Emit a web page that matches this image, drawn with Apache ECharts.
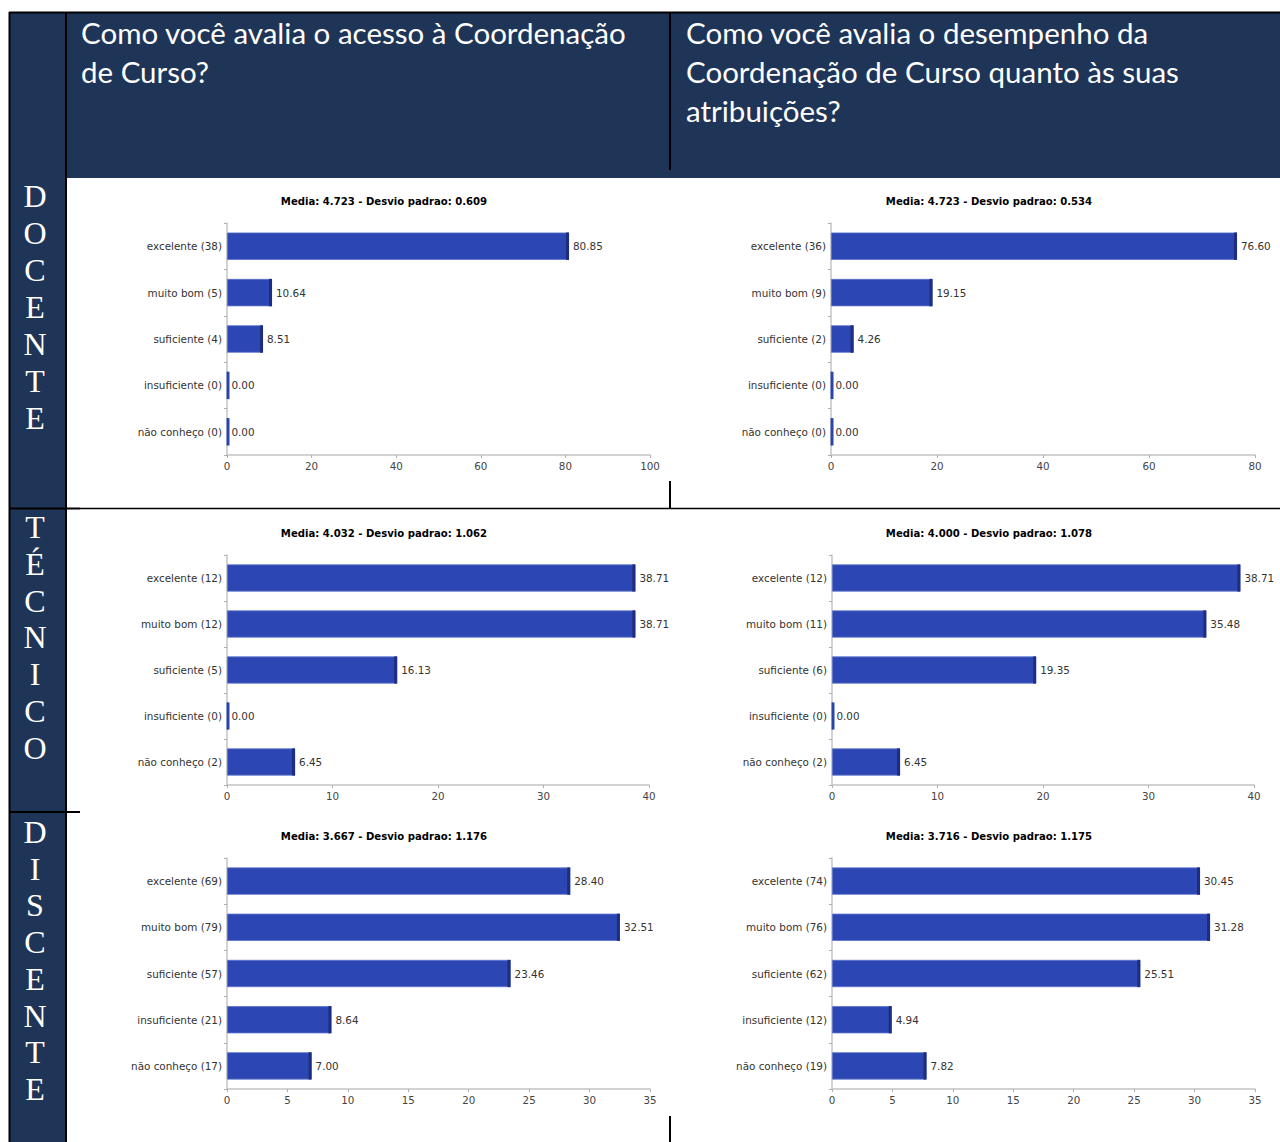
<!DOCTYPE html>
<html>
<head>
<meta charset="utf-8">
<script src="https://cdn.jsdelivr.net/npm/echarts@6/dist/echarts.min.js"></script>
<style>
html,body{margin:0;padding:0;background:#fff;}
#c{width:1280px;height:1142px;}
</style>
</head>
<body>
<div id="c"></div>
<script>
// ---- data ----
const categories = ['excelente', 'muito bom', 'suficiente', 'insuficiente', 'não conheço'];

const docenteAcessoCounts = [38, 5, 4, 0, 0];
const docenteAcessoPct = [80.85, 10.64, 8.51, 0.00, 0.00];
const docenteDesempenhoCounts = [36, 9, 2, 0, 0];
const docenteDesempenhoPct = [76.60, 19.15, 4.26, 0.00, 0.00];

const tecnicoAcessoCounts = [12, 12, 5, 0, 2];
const tecnicoAcessoPct = [38.71, 38.71, 16.13, 0.00, 6.45];
const tecnicoDesempenhoCounts = [12, 11, 6, 0, 2];
const tecnicoDesempenhoPct = [38.71, 35.48, 19.35, 0.00, 6.45];

const discenteAcessoCounts = [69, 79, 57, 21, 17];
const discenteAcessoPct = [28.40, 32.51, 23.46, 8.64, 7.00];
const discenteDesempenhoCounts = [74, 76, 62, 12, 19];
const discenteDesempenhoPct = [30.45, 31.28, 25.51, 4.94, 7.82];

const chartTitles = [
  'Media: 4.723 - Desvio padrao: 0.609',
  'Media: 4.723 - Desvio padrao: 0.534',
  'Media: 4.032 - Desvio padrao: 1.062',
  'Media: 4.000 - Desvio padrao: 1.078',
  'Media: 3.667 - Desvio padrao: 1.176',
  'Media: 3.716 - Desvio padrao: 1.175'
];
const axisMax = [100, 80, 40, 40, 35, 35];
const axisInterval = [20, 20, 10, 10, 5, 5];

const headerLeft = 'Como você avalia o acesso à Coordenação\nde Curso?';
const headerRight = 'Como você avalia o desempenho da\nCoordenação de Curso quanto às suas\natribuições?';
const rowLabels = ['DOCENTE', 'TÉCNICO', 'DISCENTE'];

// ---- layout ----
const panels = [
  {counts: docenteAcessoCounts, pct: docenteAcessoPct, grid: {left: 227, top: 223, width: 423, height: 232}, tx: 384, ty: 201},
  {counts: docenteDesempenhoCounts, pct: docenteDesempenhoPct, grid: {left: 831, top: 223, width: 424, height: 232}, tx: 989, ty: 201},
  {counts: tecnicoAcessoCounts, pct: tecnicoAcessoPct, grid: {left: 227, top: 555, width: 422, height: 230}, tx: 384, ty: 533},
  {counts: tecnicoDesempenhoCounts, pct: tecnicoDesempenhoPct, grid: {left: 832, top: 555, width: 422, height: 230}, tx: 989, ty: 533},
  {counts: discenteAcessoCounts, pct: discenteAcessoPct, grid: {left: 227, top: 858, width: 423, height: 231}, tx: 384, ty: 836},
  {counts: discenteDesempenhoCounts, pct: discenteDesempenhoPct, grid: {left: 832, top: 858, width: 423, height: 231}, tx: 989, ty: 836}
];

const NAVY = '#1f3557';
const BAR = '#2c46b3';
const BAR_EDGE = '#1e2d80';
const FONT = 'DejaVu Sans';
const BAR_FRAC = 0.59;

const grids = [], xAxes = [], yAxes = [], series = [], graphics = [];

panels.forEach((p, i) => {
  grids.push(Object.assign({containLabel: false}, p.grid));
  xAxes.push({
    type: 'value', gridIndex: i, min: 0, max: axisMax[i], interval: axisInterval[i],
    axisLine: {show: true, lineStyle: {color: '#c4c4c4', width: 1.5}},
    axisTick: {show: true, length: 3, lineStyle: {color: '#b0b0b0'}},
    splitLine: {show: false},
    axisLabel: {color: '#444', fontFamily: FONT, fontSize: 10.3, margin: 6}
  });
  yAxes.push({
    type: 'category', gridIndex: i, inverse: true,
    data: categories.map((c, k) => c + ' (' + p.counts[k] + ')'),
    axisLine: {show: true, lineStyle: {color: '#c4c4c4', width: 1.5}},
    axisTick: {show: true, length: 3, lineStyle: {color: '#b0b0b0'}},
    axisLabel: {color: '#333', fontFamily: FONT, fontSize: 10.4, margin: 5}
  });
  series.push({
    type: 'bar', xAxisIndex: i, yAxisIndex: i,
    data: p.pct, barCategoryGap: '41%',
    itemStyle: {color: BAR, borderColor: '#5d72cc', borderWidth: 0.8},
    label: {
      show: true, position: 'right', distance: 4,
      color: '#333', fontFamily: FONT, fontSize: 10.4,
      formatter: (d) => d.value.toFixed(2)
    },
    animation: false, z: 2
  });
  series.push({
    type: 'custom', xAxisIndex: i, yAxisIndex: i,
    data: p.pct.map((v, k) => [v, k]),
    encode: {x: 0, y: 1},
    renderItem: function (params, api) {
      const v = api.value(0), k = api.value(1);
      const end = api.coord([v, k]);
      const start = api.coord([0, k]);
      const h = api.size([0, 1])[1] * BAR_FRAC;
      const w = v === 0 ? 2.5 : 3;
      const x = v === 0 ? start[0] : Math.max(start[0], end[0] - 3);
      return {
        type: 'rect',
        shape: {x: x, y: end[1] - h / 2, width: w, height: h},
        style: {fill: v === 0 ? '#2a44a8' : BAR_EDGE}
      };
    },
    silent: true, animation: false, z: 3
  });
  graphics.push({
    type: 'text', x: p.tx, y: p.ty, z: 10,
    style: {text: chartTitles[i], fill: '#000', font: 'bold 10.1px "' + FONT + '"', textAlign: 'center', textVerticalAlign: 'middle'}
  });
});

// table structure
const black = '#000';
function line(x1, y1, x2, y2, w) {
  graphics.push({type: 'line', z: 5, shape: {x1: x1, y1: y1, x2: x2, y2: y2}, style: {stroke: black, lineWidth: w}});
}
graphics.push({type: 'rect', z: 1, shape: {x: 10, y: 13, width: 1270, height: 165}, style: {fill: NAVY}});
graphics.push({type: 'rect', z: 1, shape: {x: 10, y: 178, width: 56, height: 964}, style: {fill: NAVY}});
line(9, 12.5, 1280, 12.5, 2);
line(9.5, 12, 9.5, 1142, 2);
line(66, 12, 66, 1142, 2);
line(670, 13, 670, 170, 2);
line(9, 508.5, 80, 508.5, 2);
line(80, 508.5, 1280, 508.5, 1.5);
line(9, 812, 80, 812, 2);
line(670, 481, 670, 508, 2);
line(670, 1116, 670, 1142, 2);

graphics.push({type: 'text', x: 81, y: 13, z: 10,
  style: {text: headerLeft, fill: '#fff', font: '29.5px Lato', lineHeight: 39, textVerticalAlign: 'top'}});
graphics.push({type: 'text', x: 686, y: 13, z: 10,
  style: {text: headerRight, fill: '#fff', font: '29.5px Lato', lineHeight: 39, textVerticalAlign: 'top'}});

const rowStarts = [[196, 37], [527, 36.8], [832, 36.7]];
rowLabels.forEach((lbl, r) => {
  lbl.split('').forEach((ch, j) => {
    graphics.push({type: 'text', x: 35, y: rowStarts[r][0] + j * rowStarts[r][1], z: 10,
      style: {text: ch, fill: '#fff', font: '32px "Liberation Serif"', textAlign: 'center', textVerticalAlign: 'middle'}});
  });
});

const chart = echarts.init(document.getElementById('c'), null, {renderer: 'svg', width: 1280, height: 1142});
chart.setOption({
  backgroundColor: '#fff',
  animation: false,
  grid: grids, xAxis: xAxes, yAxis: yAxes, series: series,
  graphic: graphics
});
</script>
</body>
</html>
